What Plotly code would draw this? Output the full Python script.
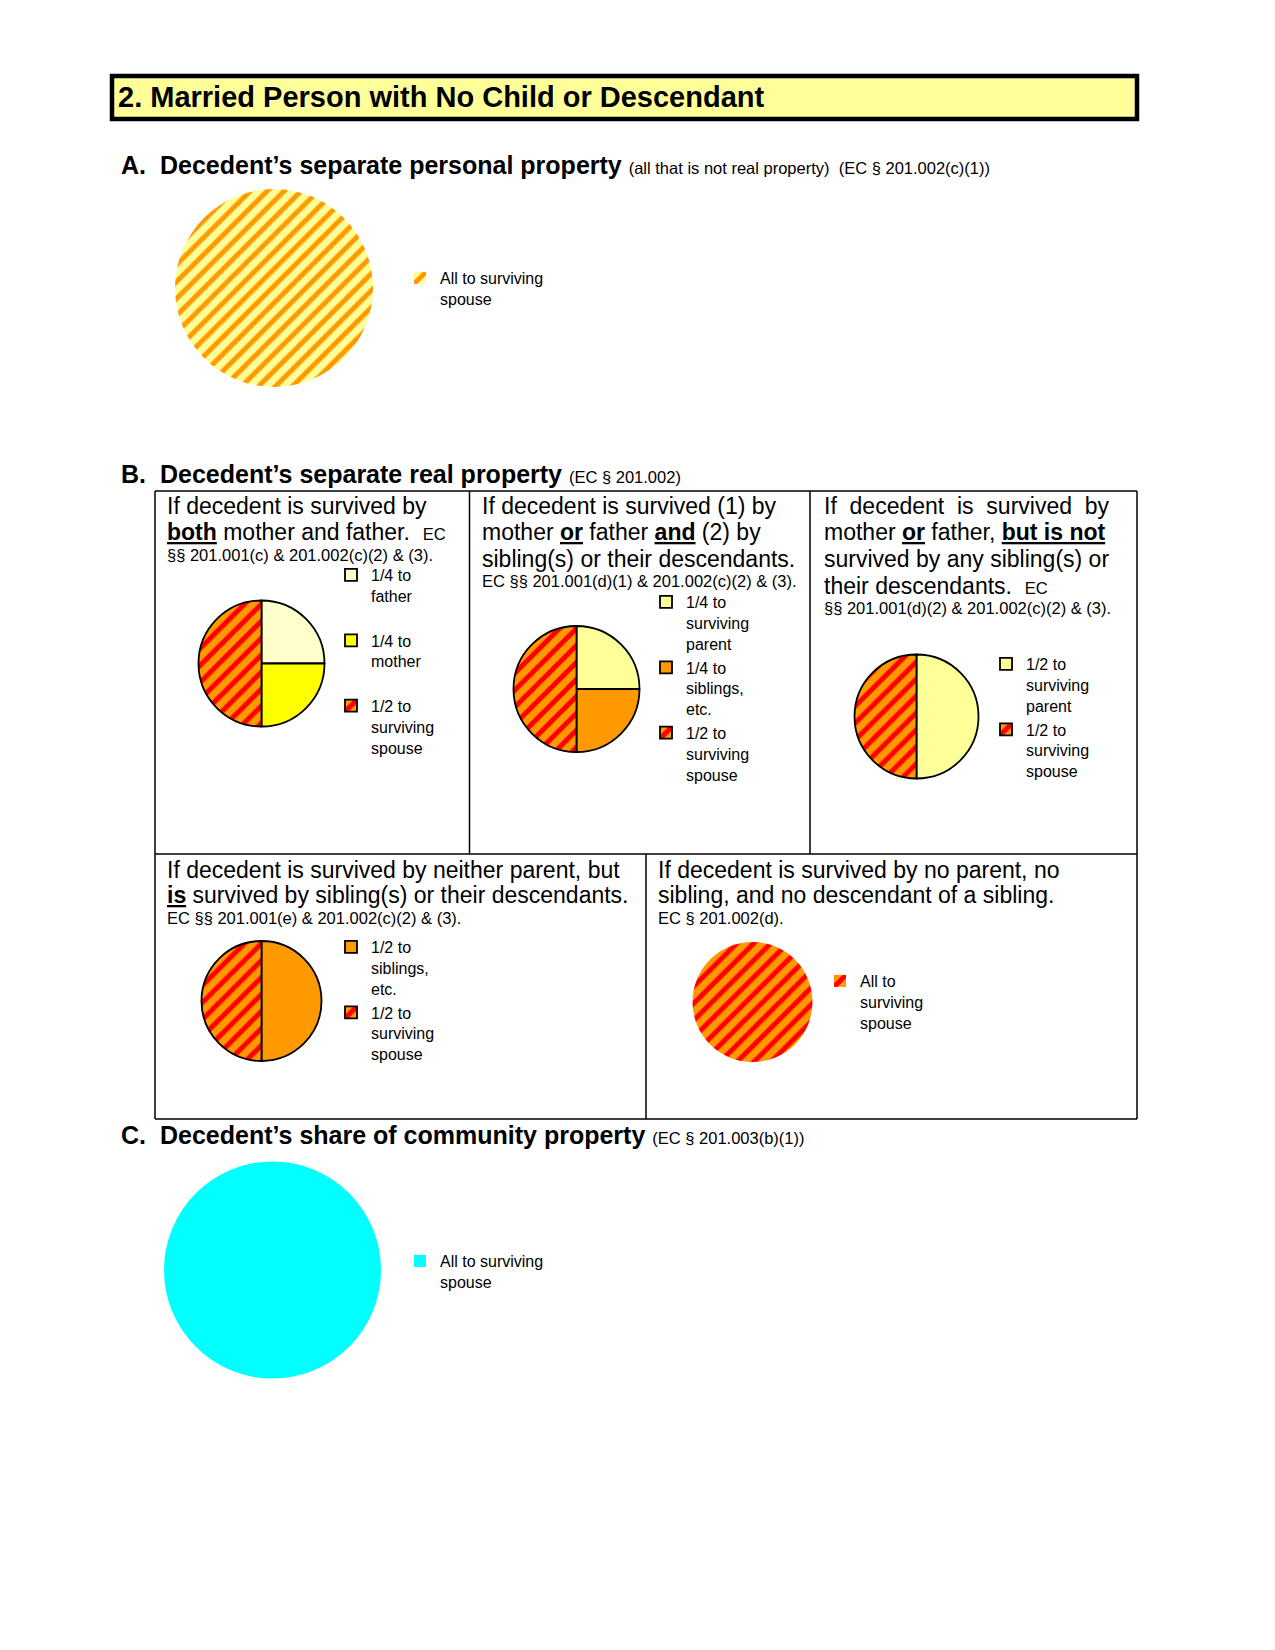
import plotly.graph_objects as go

W, H = 1275, 1650
FONT = "Liberation Sans, Arial, Helvetica, sans-serif"

# ---------------- data ----------------
a_labels = ["All to surviving<br>spouse"]
a_values = [1]

b1_labels = ["1/4 to<br>father<br> ", "1/4 to<br>mother<br> ", "1/2 to<br>surviving<br>spouse"]
b1_values = [1, 1, 2]

b2_labels = ["1/4 to<br>surviving<br>parent", "1/4 to<br>siblings,<br>etc.", "1/2 to<br>surviving<br>spouse"]
b2_values = [1, 1, 2]

b3_labels = ["1/2 to<br>surviving<br>parent", "1/2 to<br>surviving<br>spouse"]
b3_values = [1, 1]

b4_labels = ["1/2 to<br>siblings,<br>etc.", "1/2 to<br>surviving<br>spouse"]
b4_values = [1, 1]

b5_labels = ["All to<br>surviving<br>spouse"]
b5_values = [1]

c_labels = ["All to surviving<br>spouse"]
c_values = [1]

# colours
LIGHT_YELLOW = "#FFFFCC"
PALE_YELLOW = "#FFFF99"
YELLOW = "#FFFF00"
ORANGE = "#FF9900"
RED = "#FF0000"
CYAN = "#00FFFF"


def px(x):
    return x / W


def py(y):
    return 1 - y / H


def dom(cx, cy, r):
    return dict(x=[px(cx - r), px(cx + r)], y=[py(cy + r), py(cy - r)])


fig = go.Figure()


def add_pie(labels, values, colors, shapes, fgs, center, r, legend, linew):
    fig.add_trace(go.Pie(
        labels=labels, values=values, sort=False, direction="clockwise",
        rotation=0, textinfo="none", hoverinfo="label",
        domain=dom(center[0], center[1], r),
        marker=dict(colors=colors,
                    line=dict(color="black", width=linew),
                    pattern=dict(shape=shapes, fgcolor=fgs, bgcolor=colors,
                                 fillmode="overlay", fgopacity=1,
                                 size=12, solidity=0.42)),
        legend=legend, legendgroup=legend, showlegend=True,
    ))


add_pie(a_labels, a_values, [PALE_YELLOW], ["/"], [ORANGE], (274, 288), 99, "legend", 0)
add_pie(b1_labels, b1_values, [LIGHT_YELLOW, YELLOW, ORANGE], ["", "", "/"], [RED, RED, RED],
        (261.5, 663.5), 63, "legend2", 1.8)
add_pie(b2_labels, b2_values, [PALE_YELLOW, ORANGE, ORANGE], ["", "", "/"], [RED, RED, RED],
        (576.5, 689), 63, "legend3", 1.8)
add_pie(b3_labels, b3_values, [PALE_YELLOW, ORANGE], ["", "/"], [RED, RED],
        (916.5, 716.5), 62, "legend4", 1.8)
add_pie(b4_labels, b4_values, [ORANGE, ORANGE], ["", "/"], [RED, RED],
        (261.5, 1001), 60, "legend5", 1.8)
add_pie(b5_labels, b5_values, [ORANGE], ["/"], [RED],
        (752.5, 1002), 60, "legend6", 0)
add_pie(c_labels, c_values, [CYAN], [""], [CYAN],
        (272.5, 1270), 108.5, "legend7", 0)


def leg(text_x, first_line_y):
    return dict(x=px(text_x - 40), y=py(first_line_y - 17), xanchor="left", yanchor="top",
                bgcolor="rgba(0,0,0,0)", borderwidth=0, valign="top",
                traceorder="normal", font=dict(family=FONT, size=16, color="black"))


layout_legends = dict(
    legend=leg(440, 278),
    legend2=leg(371, 575),
    legend3=leg(686, 602),
    legend4=leg(1026, 664),
    legend5=leg(371, 947),
    legend6=leg(860, 981),
    legend7=leg(440, 1261),
)

# ---------------- shapes ----------------
shapes = []


def line(x0, y0, x1, y1, w=1.5):
    shapes.append(dict(type="line", xref="paper", yref="paper",
                       x0=px(x0), y0=py(y0), x1=px(x1), y1=py(y1),
                       line=dict(color="black", width=w)))


# title box
shapes.append(dict(type="rect", xref="paper", yref="paper",
                   x0=px(112), y0=py(119), x1=px(1137), y1=py(76),
                   fillcolor=PALE_YELLOW, line=dict(color="black", width=4.5), layer="below"))

# grid for section B
GL, GR, GT, GM, GB = 155, 1137, 491, 854, 1119
line(GL, GT, GR, GT)
line(GL, GB, GR, GB)
line(GL, GT, GL, GB)
line(GR, GT, GR, GB)
line(GL, GM, GR, GM)
line(469.5, GT, 469.5, GM)
line(810, GT, 810, GM)
line(646, GM, 646, GB)

# ---------------- text ----------------
anns = []


def txt(x, y, s, size=23, color="black"):
    anns.append(dict(xref="paper", yref="paper", x=px(x), y=py(y), text=s,
                     showarrow=False, xanchor="left", yanchor="middle",
                     align="left", font=dict(family=FONT, size=size, color=color)))


SM = "<span style='font-size:16.5px'>"
SMS = 16.5
txt(116, 97, "<b>2. Married Person with No Child or Descendant</b>", 29)

txt(119, 165, "<b>A.</b>", 25)
txt(158, 165, "<b>Decedent’s separate personal property</b> " + SM +
    "(all that is not real property)  (EC § 201.002(c)(1))</span>", 25)
txt(119, 474, "<b>B.</b>", 25)
txt(158, 474, "<b>Decedent’s separate real property</b> " + SM + "(EC § 201.002)</span>", 25)
txt(119, 1135, "<b>C.</b>", 25)
txt(158, 1135, "<b>Decedent’s share of community property</b> " + SM +
    "(EC § 201.003(b)(1))</span>", 25)

# cell B1
txt(165, 506, "If decedent is survived by")
txt(165, 532, "<b><u>both</u></b> mother and father.  " + SM + "EC</span>")
txt(165, 555, "§§ 201.001(c) & 201.002(c)(2) & (3).", SMS)
# cell B2
txt(480, 506, "If decedent is survived (1) by")
txt(480, 532, "mother <b><u>or</u></b> father <b><u>and</u></b> (2) by")
txt(480, 559, "sibling(s) or their descendants.")
txt(480, 581, "EC §§ 201.001(d)(1) & 201.002(c)(2) & (3).", SMS)
# cell B3
txt(822, 506, "If&nbsp; decedent&nbsp; is&nbsp; survived&nbsp; by")
txt(822, 532, "mother <b><u>or</u></b> father, <b><u>but is not</u></b>")
txt(822, 559, "survived by any sibling(s) or")
txt(822, 586, "their descendants.  " + SM + "EC</span>")
txt(822, 608, "§§ 201.001(d)(2) & 201.002(c)(2) & (3).", SMS)
# cell B4
txt(165, 870, "If decedent is survived by neither parent, but")
txt(165, 895, "<b><u>is</u></b> survived by sibling(s) or their descendants.")
txt(165, 918, "EC §§ 201.001(e) & 201.002(c)(2) & (3).", SMS)
# cell B5
txt(656, 870, "If decedent is survived by no parent, no")
txt(656, 895, "sibling, and no descendant of a sibling.")
txt(656, 918, "EC § 201.002(d).", SMS)

fig.update_layout(
    width=W, height=H, margin=dict(l=0, r=0, t=0, b=0),
    paper_bgcolor="white", plot_bgcolor="white",
    shapes=shapes, annotations=anns,
    font=dict(family=FONT, color="black"),
    **layout_legends,
)

fig.write_html("out.html")
